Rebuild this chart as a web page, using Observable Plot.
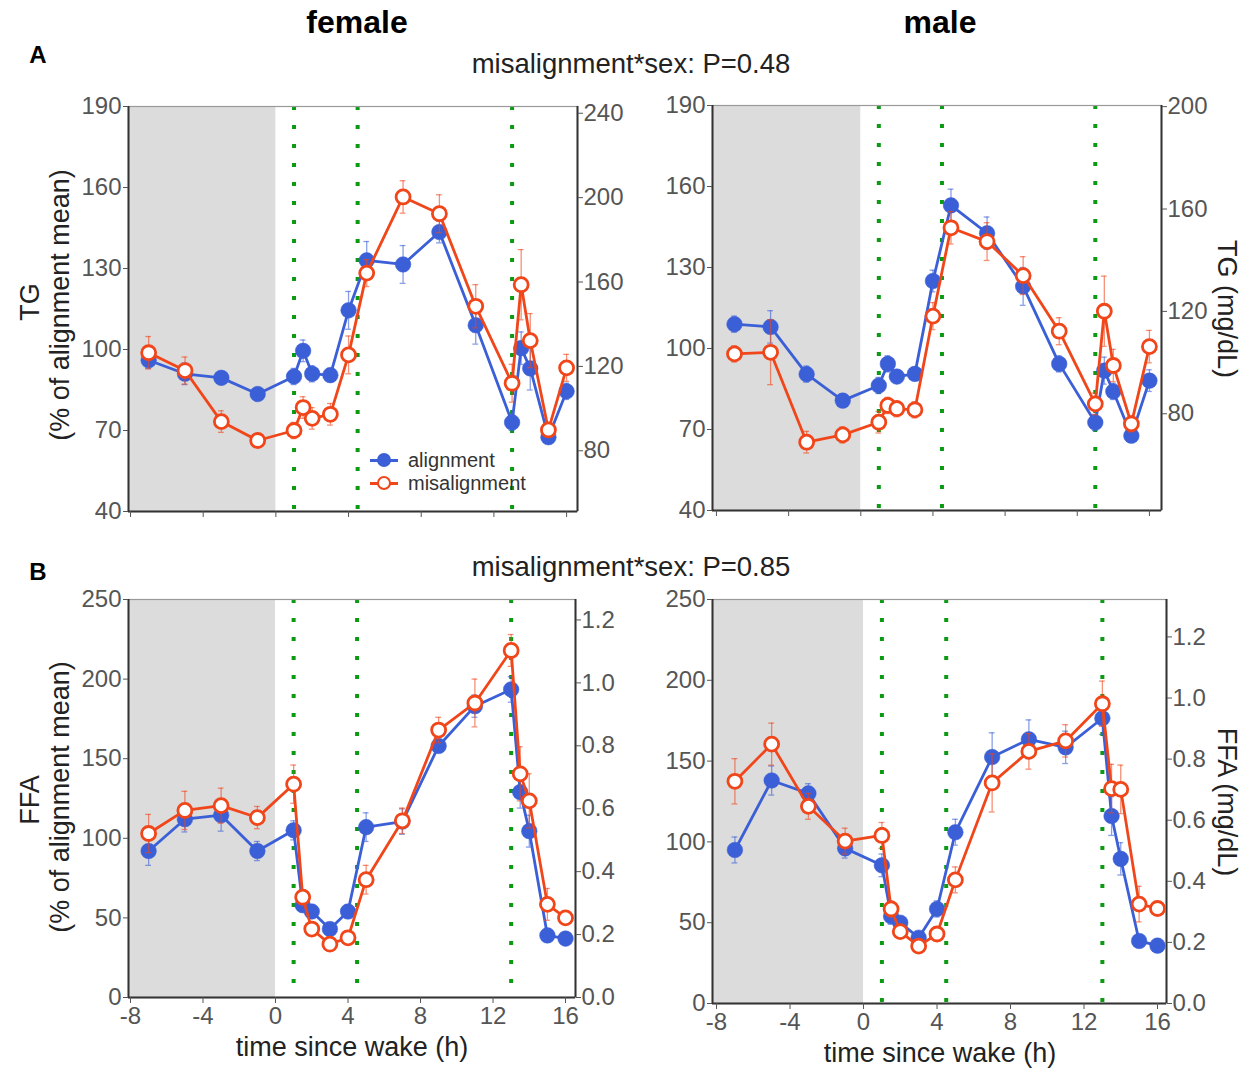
<!DOCTYPE html>
<html><head><meta charset="utf-8">
<script src="https://cdn.jsdelivr.net/npm/d3@7"></script>
<script src="https://cdn.jsdelivr.net/npm/@observablehq/plot@0.6"></script>
<style>
body{margin:0;background:#fff;}
#root{position:relative;width:1248px;height:1070px;font-family:"Liberation Sans",Arial,sans-serif;overflow:hidden;background:#fff;}
.abs{position:absolute;white-space:nowrap;transform:translate(-50%,-50%);line-height:1;}
.rotL{transform:translate(-50%,-50%) rotate(-90deg);}
.rotR{transform:translate(-50%,-50%) rotate(90deg);}
.panel{position:absolute;}
.leg{position:absolute;display:flex;align-items:center;font-size:20px;color:#333;line-height:1;}
.leg .sw{position:relative;width:28px;height:14px;margin-right:10px;}
.leg .ln{position:absolute;left:0;right:0;top:6px;height:2.5px;}
.leg .pt{position:absolute;left:7px;top:0;width:14px;height:14px;border-radius:50%;box-sizing:border-box;}
</style></head><body><div id="root"></div>
<script>
// ---------------- data ----------------
const times = [-7, -5, -3, -1, 1, 1.5, 2, 3, 4, 5, 7, 9, 11, 13, 13.5, 14, 15, 16];
const mealTimes = [1, 4.5, 13];
const sleepEnd = 0;
const xTicks = [-8, -4, 0, 4, 8, 12, 16];

// TG, female (% of alignment mean)
const tgFemaleAlign    = [96, 91, 89.5, 83.5, 90, 99.5, 91, 90.5, 114.5, 133, 131.5, 143.5, 109, 73, 100.5, 93, 67.5, 84.5];
const tgFemaleAlignErr = [3, 4, 2, 2, 3, 4, 3, 2, 7, 7, 7, 4, 7, 3, 6, 8, 2, 3];
const tgFemaleMis      = [98.8, 92.2, 73.3, 66.3, 70, 78.5, 74.5, 76, 98, 128.3, 156.5, 150.3, 116, 87.5, 124, 103.3, 70.2, 93.2];
const tgFemaleMisErr   = [6, 5, 4, 2, 3, 4, 4, 4, 7, 5, 6, 7, 8, 7, 13, 10, 2, 5];
// TG, male
const tgMaleAlign    = [109, 108, 90.5, 80.7, 86.3, 94.3, 89.6, 90.6, 125, 153, 142.7, 123, 94.3, 72.6, 91.8, 84.1, 67.7, 88.1];
const tgMaleAlignErr = [3, 6, 3, 2, 3, 3, 2, 2, 4, 6, 6, 7, 3, 3, 5, 3, 2, 4];
const tgMaleMis      = [98, 98.6, 65.3, 68, 72.7, 78.9, 77.7, 77.3, 112, 144.7, 139.6, 127, 106.4, 79.5, 113.8, 93.7, 72.1, 100.7];
const tgMaleMisErr   = [3, 12, 4, 3, 4, 3, 3, 3, 5, 6, 7, 7, 5, 4, 13, 6, 3, 6];
// FFA, female
const ffaFemaleAlign    = [92, 112, 114.5, 92, 105, 58, 54, 43, 54, 107, 110.5, 158, 183, 193.5, 129, 104.5, 39, 37];
const ffaFemaleAlignErr = [9, 8, 10, 6, 6, 4, 3, 3, 4, 9, 8, 4, 7, 8, 10, 10, 2, 2];
const ffaFemaleMis      = [103, 117.5, 120.5, 113, 134, 63, 43, 33.5, 37.5, 74, 111, 168, 185, 218, 140.5, 123.5, 58.5, 50];
const ffaFemaleMisErr   = [12, 12, 11, 7, 12, 4, 3, 3, 3, 9, 8, 8, 15, 10, 17, 17, 10, 3];
// FFA, male
const ffaMaleAlign    = [95, 138, 130, 96, 85.5, 54, 50, 40.7, 58.5, 106, 152.5, 163.5, 158.5, 176.5, 116, 89.5, 38.7, 35.8];
const ffaMaleAlignErr = [8, 9, 6, 6, 7, 5, 3, 3, 5, 8, 15, 12, 10, 10, 12, 10, 2, 2];
const ffaMaleMis      = [137.5, 160.5, 122, 100.5, 104, 58.5, 44.5, 35.5, 43, 76.5, 136.5, 156, 162.5, 185.5, 133, 132.5, 61.5, 58.8];
const ffaMaleMisErr   = [14, 13, 8, 8, 8, 5, 3, 3, 4, 8, 18, 11, 10, 14, 15, 15, 11, 3];

// axes
const tgTicks = [40, 70, 100, 130, 160, 190];
const ffaTicks = [0, 50, 100, 150, 200, 250];
const tgFemaleRightTicks = [80, 120, 160, 200, 240];
const tgMaleRightTicks = [80, 120, 160, 200];
const ffaRightTicks = [0, 0.2, 0.4, 0.6, 0.8, 1.0, 1.2];
// conversion factor: absolute units per % of alignment mean
const tgFemaleK = 1.28, tgMaleK = 1.055, ffaFemaleK = 0.00506, ffaMaleK = 0.00529;

const BLUE = "#3b5fd6", RED = "#f0461a", GREEN = "#0b9a12";

// ---------------- drawing ----------------
const root = document.getElementById("root");
function addText(html, x, y, style, cls) {
  const d = document.createElement("div");
  d.className = "abs" + (cls ? " " + cls : "");
  d.innerHTML = html;
  d.style.left = x + "px"; d.style.top = y + "px";
  Object.assign(d.style, style || {});
  root.appendChild(d);
}

function panel(cfg) {
  const toRows = (v, e) => times.map((t, i) => ({t, v: v[i], e: e[i]}));
  const al = toRows(cfg.align, cfg.alignErr);
  const mi = toRows(cfg.mis, cfg.misErr);
  const [x0] = cfg.xDomain, [y0] = cfg.yDomain;
  const capW = 0.16;
  const err = (d, c) => [
    Plot.ruleX(d, {x: "t", y1: r => r.v - r.e, y2: r => r.v + r.e, stroke: c, strokeOpacity: 0.6, strokeWidth: 1.3}),
    Plot.ruleY(d, {y: r => r.v + r.e, x1: r => r.t - capW, x2: r => r.t + capW, stroke: c, strokeOpacity: 0.6, strokeWidth: 1.3}),
    Plot.ruleY(d, {y: r => r.v - r.e, x1: r => r.t - capW, x2: r => r.t + capW, stroke: c, strokeOpacity: 0.6, strokeWidth: 1.3})
  ];
  const svg = Plot.plot({
    width: cfg.width, height: cfg.height,
    marginLeft: cfg.ml, marginRight: cfg.mr, marginTop: cfg.mt, marginBottom: cfg.mb,
    x: {domain: cfg.xDomain},
    y: {domain: cfg.yDomain},
    style: {fontFamily: '"Liberation Sans", Arial, sans-serif', fontSize: "24px", color: "#555", background: "transparent", overflow: "visible"},
    marks: [
      Plot.rect([{end: sleepEnd}], {x1: () => x0, x2: "end", fill: "#dcdcdc"}),
      Plot.ruleX(mealTimes, {stroke: GREEN, strokeWidth: 4, strokeDasharray: "4,15"}),
      Plot.frame({stroke: "#9a9a9a", strokeWidth: 1.2}),
      Plot.ruleX(cfg.xDomain, {stroke: "#333", strokeWidth: 2}),
      Plot.ruleY([y0], {stroke: "#333", strokeWidth: 2}),
      Plot.axisY({ticks: cfg.yTicks, anchor: "left", tickSize: 5, tickPadding: 2, label: null, tickFormat: d => String(d)}),
      Plot.axisY(cfg.rightTicks.map(t => t / cfg.k), {anchor: "right", tickSize: 5, tickPadding: 1, label: null, tickFormat: d => cfg.rightFmt(d * cfg.k)}),
      Plot.axisX({ticks: xTicks, tickSize: 6, tickPadding: 3, label: null, tickFormat: cfg.xLabels ? (d => String(d)) : (() => "")}),
      ...err(al, BLUE),
      Plot.line(al, {x: "t", y: "v", stroke: BLUE, strokeWidth: 2.8}),
      Plot.dot(al, {x: "t", y: "v", r: 7.8, fill: BLUE, stroke: BLUE, strokeWidth: 0.5}),
      ...err(mi, RED),
      Plot.line(mi, {x: "t", y: "v", stroke: RED, strokeWidth: 2.8}),
      Plot.dot(mi, {x: "t", y: "v", r: 7, fill: "white", stroke: RED, strokeWidth: 2.8})
    ]
  });
  svg.classList.add("panel");
  svg.style.left = cfg.left + "px";
  svg.style.top = cfg.top + "px";
  root.appendChild(svg);
}

const fmtInt = v => String(Math.round(v));
const fmt1 = v => d3.format(".1f")(Math.round(v * 10) / 10);

panel({left: 0, top: 80, width: 620, height: 451, ml: 128, mr: 43, mt: 26, mb: 20,
  xDomain: [-8.11, 16.6], yDomain: [40, 190], yTicks: tgTicks,
  rightTicks: tgFemaleRightTicks, k: tgFemaleK, rightFmt: fmtInt, xLabels: false,
  align: tgFemaleAlign, alignErr: tgFemaleAlignErr, mis: tgFemaleMis, misErr: tgFemaleMisErr});
panel({left: 620, top: 80, width: 628, height: 450, ml: 92, mr: 87, mt: 25, mb: 20,
  xDomain: [-8.22, 16.67], yDomain: [40, 190], yTicks: tgTicks,
  rightTicks: tgMaleRightTicks, k: tgMaleK, rightFmt: fmtInt, xLabels: false,
  align: tgMaleAlign, alignErr: tgMaleAlignErr, mis: tgMaleMis, misErr: tgMaleMisErr});
panel({left: 0, top: 580, width: 620, height: 462, ml: 128, mr: 45, mt: 19, mb: 45,
  xDomain: [-8.11, 16.55], yDomain: [0, 250], yTicks: ffaTicks,
  rightTicks: ffaRightTicks, k: ffaFemaleK, rightFmt: fmt1, xLabels: true,
  align: ffaFemaleAlign, alignErr: ffaFemaleAlignErr, mis: ffaFemaleMis, misErr: ffaFemaleMisErr});
panel({left: 620, top: 580, width: 628, height: 468, ml: 92, mr: 82, mt: 19, mb: 45,
  xDomain: [-8.22, 16.49], yDomain: [0, 250], yTicks: ffaTicks,
  rightTicks: ffaRightTicks, k: ffaMaleK, rightFmt: fmt1, xLabels: true,
  align: ffaMaleAlign, alignErr: ffaMaleAlignErr, mis: ffaMaleMis, misErr: ffaMaleMisErr});

// titles & labels
addText("female", 357, 22, {fontSize: "32px", fontWeight: "bold", color: "#000"});
addText("male", 940, 22, {fontSize: "32px", fontWeight: "bold", color: "#000"});
addText("A", 38, 55, {fontSize: "24px", fontWeight: "bold", color: "#000"});
addText("B", 38, 572, {fontSize: "24px", fontWeight: "bold", color: "#000"});
addText("misalignment*sex: P=0.48", 631, 64, {fontSize: "27.5px", color: "#222"});
addText("misalignment*sex: P=0.85", 631, 567, {fontSize: "27.5px", color: "#222"});
addText("TG", 30, 302, {fontSize: "27px", color: "#222"}, "rotL");
addText("(% of alignment mean)", 60, 305, {fontSize: "27px", color: "#222"}, "rotL");
addText("FFA", 30, 800, {fontSize: "27px", color: "#222"}, "rotL");
addText("(% of alignment mean)", 60, 797, {fontSize: "27px", color: "#222"}, "rotL");
addText("TG (mg/dL)", 1226, 309, {fontSize: "27px", color: "#222"}, "rotR");
addText("FFA (mg/dL)", 1226, 802, {fontSize: "27px", color: "#222"}, "rotR");
addText("time since wake (h)", 352, 1047, {fontSize: "27px", color: "#222"});
addText("time since wake (h)", 940, 1053, {fontSize: "27px", color: "#222"});

// legend
function legendRow(label, y, color, filled) {
  const row = document.createElement("div");
  row.className = "leg";
  row.style.left = "370px"; row.style.top = (y - 10) + "px";
  row.innerHTML = `<div class="sw"><div class="ln" style="background:${color}"></div><div class="pt" style="background:${filled ? color : "#fff"};border:${filled ? 0 : 2.5}px solid ${color}"></div></div><span>${label}</span>`;
  root.appendChild(row);
}
legendRow("alignment", 460, BLUE, true);
legendRow("misalignment", 483, RED, false);
</script>
</body></html>
